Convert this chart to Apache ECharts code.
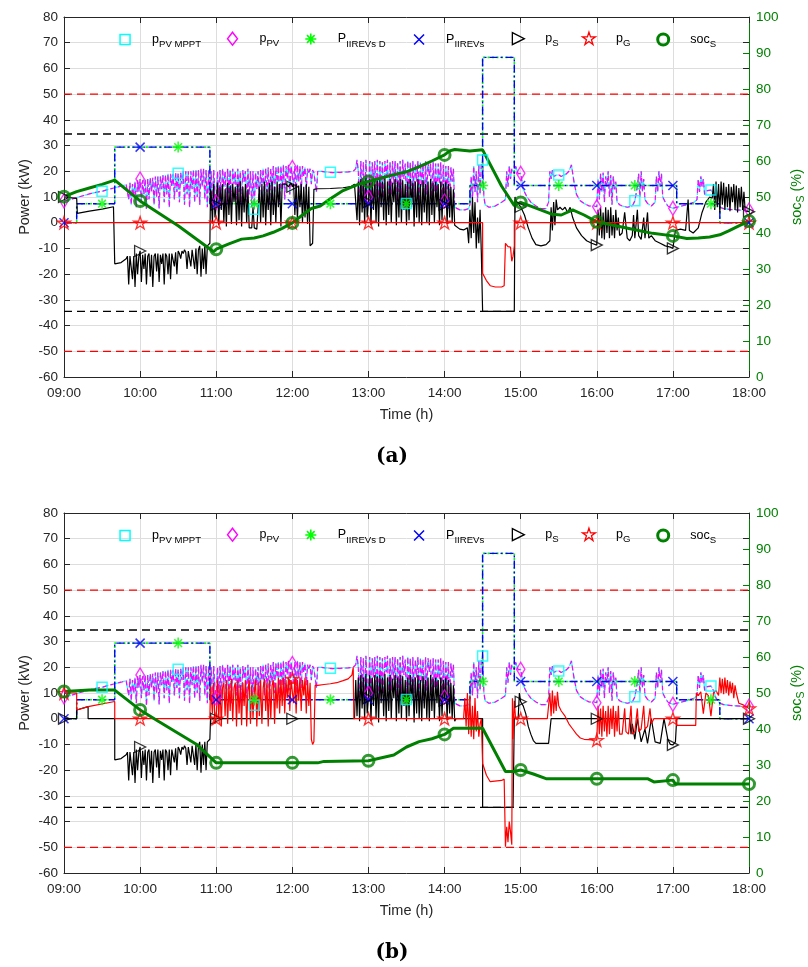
<!DOCTYPE html>
<html>
<head>
<meta charset="utf-8">
<script src="https://cdn.jsdelivr.net/npm/echarts@6/dist/echarts.min.js"></script>
<style>
  html, body { margin: 0; padding: 0; background: #fff; }
  #chart { width: 808px; height: 967px; }
</style>
</head>
<body>
<div id="chart"></div>
<script>
// ---------- helpers ----------
// consecutive one-minute samples starting at `start` (minutes after 09:00)
function seg(start, values) { return values.map(function (v, i) { return [start + i, v]; }); }

// ---------- data (time in minutes after 09:00, power in kW, soc in %) ----------
const timeLabels = ['09:00', '10:00', '11:00', '12:00', '13:00', '14:00', '15:00', '16:00', '17:00', '18:00'];
const hourMarks = [0, 60, 120, 180, 240, 300, 360, 420, 480, 540];
const halfHourMarks = [30, 90, 150, 210, 270, 330, 390, 450, 510];

const gridLimit = 50;      // grid connection limit
const storageLimit = 34.5; // storage converter limit

// PV power (available MPPT power and delivered power coincide)
const pvProfile = [].concat(
  [[0, 8.5], [5, 9], [10, 9.8], [15, 10.5], [20, 11.2], [25, 11.8], [30, 12.2], [35, 13], [40, 13.6], [45, 14.2], [49, 14.8]],
  seg(50, [
    15, 9, 15.5, 7, 15, 10, 16, 6, 16.5, 12,
    17, 8, 16.5, 11, 17, 5, 17, 9, 17.5, 12,
    17.5, 7, 18, 10, 18, 5.5, 18, 13, 18.5, 8,
    18.5, 11, 19, 6, 19, 14, 19, 9, 19.5, 12,
    19.2, 8, 19.5, 15, 20, 7, 20, 11, 20, 6,
    20, 13, 20.5, 8, 20.5, 10, 20.5, 7, 21, 14,
    21, 9, 20.5, 6, 20.5, 10, 20, 7, 20.5, 12,
    8, 20, 10, 20.5, 8, 21, 14, 20, 7, 21,
    11, 20.5, 6, 21, 15, 20, 9, 21, 12, 20,
    5, 20.5, 16, 20, 8, 21, 11, 20, 6, 20,
    5.2, 19.5, 13, 20, 8, 20.5, 15, 21, 9, 21,
    12, 21.5, 7, 21, 14, 22, 10, 21.5, 16, 22,
    8, 22, 13, 22.5, 9, 22, 17, 22.5, 11, 22,
    21.5, 14, 22, 10, 22.5, 16, 22, 12, 22, 18,
    21.5, 13, 21, 19, 21, 15, 20.5, 19.5, 20, 12
  ]),
  [[200, 20], [203, 20], [207, 19.7], [212, 19.5], [218, 19.6], [224, 19.8], [228, 20], [230, 21], [231, 24.5], [232, 20]],
  seg(233, [
    8, 24, 12, 23.5, 6, 24.5, 14, 10, 24, 7,
    23.5, 16, 24, 10, 24.5, 5.5, 24, 13, 23.5, 8,
    24, 18, 24.5, 6, 23.5, 11, 24, 15, 24, 7,
    23.5, 12, 24, 9, 24.5, 17, 23, 7.5, 24, 13,
    23.5, 6, 24, 10, 23, 16, 24, 8, 23.5, 14,
    23, 6, 24, 11, 23.5, 18, 23, 7, 23.5, 12,
    23, 9, 23, 15, 23.5, 6, 22.5, 8.5, 22, 13,
    22, 7, 21.5, 16, 21, 6
  ]),
  [[309, 5.5], [312, 5], [316, 5], [319, 5.5]],
  seg(320, [7, 18, 9, 22, 12, 20, 8, 22.5, 11, 23]),
  [[330, 24.4], [331, 10], [332, 7], [335, 6], [340, 6.5], [345, 8], [348, 9], [349, 20], [350, 14], [351, 22],
   [352, 17], [353, 21], [354, 20], [355, 19], [356, 22], [358, 19], [360, 19.2], [362, 13], [365, 10], [368, 8],
   [372, 6.5], [376, 5.5], [380, 5.5], [382, 8], [383, 20], [384, 17], [385, 20.5], [386, 18], [388, 18.5], [390, 18.6],
   [392, 18], [394, 18.5], [396, 19], [398, 20], [400, 22.5], [402, 16], [404, 11], [407, 8.5], [410, 7.5], [414, 6.5],
   [418, 6.5], [420, 6.2]],
  seg(421, [17, 9, 19, 12, 19.5, 8, 18, 14, 20, 10, 18.5, 7, 18, 13, 16, 8]),
  [[438, 7], [440, 6.5], [444, 6], [448, 6.5], [450, 8.5], [452, 14], [453, 19], [454, 10], [455, 20], [456, 12],
   [457, 17], [458, 9], [460, 7.5], [463, 6.5], [466, 8], [467, 18], [468, 12], [469, 20], [470, 14], [471, 19],
   [472, 10], [474, 8], [476, 6.5], [478, 6], [480, 5.6], [483, 6], [487, 6.5], [491, 7], [494, 7.5], [497, 8],
   [499, 9], [500, 17], [501, 12], [502, 18], [503, 14], [504, 17], [505, 11], [507, 12.5], [510, 12.7], [512, 11],
   [514, 8], [517, 6], [520, 5.5], [525, 5.2], [530, 5], [535, 4.8], [540, 4.9]]
);

// EV charging power (actual and demanded coincide)
const evCharging = [[0, 0], [10, 0], [10, 7.4], [40, 7.4], [40, 29.4], [115, 29.4], [115, 7.4], [320, 7.4], [320, 14.5],
  [330, 14.5], [330, 64.3], [355, 64.3], [355, 14.5], [483, 14.5], [483, 7.4], [517, 7.4], [517, 0], [540, 0]];
const evChargingDemand = evCharging;

// storage discharge 09:40-10:55 (same in both cases)
const storageMorning = [].concat(
  [[40, -16], [45, -15.5], [49, -14]],
  seg(50, [
    -13, -24, -13, -12.5, -22, -13, -25, -12, -20, -13,
    -11, -23, -12.5, -18, -12, -24, -13, -12, -21, -12.5,
    -25, -13, -12, -19, -12, -23, -12.5, -16, -12, -24,
    -12, -13, -20, -12, -22, -12, -11.5, -17, -11.5, -20,
    -11, -12, -14, -11, -12, -10.5, -11.5, -18, -11, -10.5,
    -17, -10.5, -10, -18, -10, -20, -10.5, -9, -21, -10,
    -18, -9, -20, -9, -8.5
  ]),
  [[115, -8]]
);

// storage cycling 12:50-14:08 (same in both cases)
const storageNoon = seg(230, [
  15, 1, 16, -1, 17, 4, 16, 0, 17.5, 2,
  8, 17, -1, 16, 5, 17, 0, 16.5, -1.5, 17,
  6, 16, 1, 17.5, -1, 16, 3, 17, 0, 15.5,
  8, 17, -1, 16, 2, 17, 0, 16.5, 5, 15,
  -1, 16, 1, 17, 7, 15.5, -1.5, 16, 2, 17,
  0, 15, -1, 16.5, 4, 15, 0, 16, -1, 17,
  3, 15.5, 0, 16, 6, 15, -1, 16, 1, 15,
  7, 16, -0.5, 15, 2, 14, 0, 13, -1
]);

// (a) storage power
const storagePowerA = [].concat(
  [[0, 10], [10, 9.5], [10.5, 3.6], [20, 4.5], [30, 5.3], [39, 6.2]],
  storageMorning,
  [[115.5, 13]],
  seg(116, [
    12, 0, 15, 2, 7, 15.5, -1, 14, 5, 15,
    0, 13, -1.5, 15.5, 3, 14.5, -0.5, 15, 8, 14,
    -1, 15, 1, 16, -1.5, 14, 4, 15, 0, 13,
    -2
  ]),
  [[148, -2], [149, 6], [150, -2], [152, -2.5], [153, -2]],
  seg(154, [14, 0, 15, 2, 16, -1, 13, 5, 15.5, -1, 16, 3, 14, 0, 16, 6, 15, -1.5, 15]),
  [[173, 14.5], [175, 15], [177, 14], [179, 15.5], [180, 14], [181, 15]],
  seg(182, [3, 15, 1, 14.5, 6, 15, 0, 14, 2, 15, -0.5, 14]),
  [[194, -9], [195, -9.5], [196, -8], [197, 13], [200, 13.2], [210, 13.3], [220, 13.6], [226, 14], [229, 15]],
  storageNoon,
  [[309, -1.5], [312, -2.5], [315, -2.8], [318, -2]],
  seg(319, [-8, 5, -6, 10, -4, 8, -10, 2, -8, 5, -12]),
  [[330, -34.5], [355, -34.5], [355.5, 10], [357, 8], [360, 6.2], [363, 3], [366, -2], [369, -6], [372, -8.5], [376, -9],
   [380, -8.5], [383, -7], [384, 6], [385, -3], [386, 8], [387, -1], [388, 9], [389, 5], [391, 6], [393, 5],
   [395, 6], [397, 4], [399, 6], [401, 2], [404, -2], [408, -5], [412, -7], [416, -8], [420, -8.7]],
  seg(421, [5, -5, 6, -6, 4, -6.5, 6, -4, 5, -6, 6, -5, 3, -6, 5, -3, 2, -5]),
  [[440, -4], [442, 4], [444, -6], [446, -7], [448, -5], [449, 3], [450, -6], [452, 5], [453, -5], [455, -6.5],
   [457, 2], [458, -6], [460, 4], [461, -6], [463, -5], [466, -7], [470, -8], [474, -9], [478, -9.5], [480, -10],
   [482, -3], [486, -2.5], [490, -3], [492, 9], [493, -3], [496, -4], [500, -2], [503, 4], [506, 8], [509, 10], [511, 9.5]],
  seg(512, [15, 5, 16, 6, 15, 4, 16, 7, 15.5, 5, 14, 6, 15, 4.5, 14, 8, 15, 5, 14.5, 4, 13.5, 6, 14, 5, 12, 4.5]),
  [[540, 4.3]]
);

// (a) grid power
const gridPowerA = [[0, 0], [330, 0], [330, -19.7], [333, -22.5], [336, -24.5], [340, -25], [345, -25], [347, -24.5],
  [348, -8], [350, -9.3], [352, -9.5], [353, -15], [354, -13], [355, -9], [355, 0], [540, 0]];

// (a) storage state of charge
const socA = [[0, 50.1], [10, 51.5], [20, 52.5], [30, 53.5], [40, 54.7], [60, 48.9], [90, 42], [118, 34.8], [120, 35.5],
  [130, 37], [140, 38.3], [150, 38.6], [157, 39.2], [165, 40.2], [172, 41.3], [180, 42.8], [188, 45], [195, 46.8],
  [202, 47.5], [210, 49.5], [220, 51.8], [232, 53.5], [240, 54.3], [250, 55.3], [258, 56], [270, 57], [282, 58.7],
  [290, 60], [300, 61.7], [304, 62.8], [308, 63.2], [320, 62.8], [330, 63.1], [345, 53], [355, 47.6], [360, 48.5],
  [370, 47.2], [385, 45.2], [392, 45], [401, 46.4], [410, 45], [420, 43.1], [435, 42], [450, 40.9], [464, 39.9],
  [480, 39.2], [491, 38.5], [500, 38.6], [509, 38.9], [517, 39.5], [524, 40.6], [532, 42], [540, 43.3]];

// (b) storage power
const storagePowerB = [].concat(
  [[0, 0], [10, 0], [10, 3.4], [19, 4.7], [19, 0], [40, 0]],
  storageMorning,
  [[115.5, 0], [229, 0]],
  storageNoon,
  [[309, 0], [330, 0], [330, -34.5], [354, -34.5], [355, 0], [358, 0], [359, 10], [360, 6.6], [362, 5], [364, 2],
   [366, -3], [368, -6], [370, -8.5], [372, -9.6], [382, -9.6], [384, 0], [446, 0], [447, -6], [448, -2], [450, -8],
   [452, 0], [455, -9], [458, -4], [460, -9.6], [463, 0], [466, -9], [470, -9.6], [473, 0], [476, -8], [478, -10],
   [480, -10.2], [482, -9], [483, 0], [540, 0]]
);

// (b) grid power
const gridPowerB = [].concat(
  [[0, 10], [10, 10], [10, 3.4], [19, 4.7], [40, 6.7], [40, 0], [115, 0], [115.5, 13]],
  seg(116, [
    13, 2, 14, -2, 0, 15, 0, 13, -3, 12,
    14, 1, 15, -2, 13, 3, 15.5, -1, 12, 14,
    -3, 15, 2, 13, -2.5, 14, 5, 15, -3, 11,
    15, -2, 13, 0, 10, 15, -3, 14, 1, 15,
    -2, 12, 15.5, 3, 14, -3, 15, 0, 13, 15,
    -2, 14, 4, 16, 2, 15, 5, 16, 2, 15,
    8, 16, 3, 15, 15.5, 6, 16, 2, 15, 7,
    16, 3, 15, 9, 16, 2, 15, 5, 14
  ]),
  [[195, -8], [196, -10], [197, -9], [198, 13], [200, 13], [205, 13.3], [210, 13.6], [215, 14], [220, 14.8],
   [224, 15.5], [227, 17], [228, 20], [228.5, 0], [315, 0]],
  seg(316, [8, -3, 10, -6, 9, -7, 5, -8, 8, -5, 3, -7, -2]),
  [[329, 0], [330, 0], [330, -17.4], [333, -22], [336, -24.5], [345, -24], [347, -23.5], [348, -49.8], [349, -42],
   [350, -48], [351, -40], [352, -44], [353, -49], [353.5, 8], [354, -8], [355, 7], [356, 0], [381, 0]],
  seg(382, [0, 10, 1, 11, 2, 9, 3, 10.5, 5]),
  [[392, 3], [395, 1], [398, -2], [401, -4], [404, -6], [407, -7.5], [410, -8], [420, -8.3]],
  seg(421, [5, -6, 4, -7, 5, -5, 3, -7, 5, -6, 4, -4, 5, -7, 3, -5, 5, -6]),
  [[440, -6], [442, 4], [443, -5], [445, -6], [447, 5], [448, -6], [450, -5], [452, 4], [453, -5], [455, -4],
   [457, 5], [458, -4], [460, -3], [462, 4], [463, -2], [465, 0], [483, 0], [483, -2.6], [498, -2.6], [498.5, 10],
   [500, 9], [502, 10.5], [504, 2], [506, 10], [508, 9], [510, 1], [512, 10], [514, 11], [516, 9]],
  seg(517, [16, 10, 15.5, 9.5, 16, 10, 15, 9, 14.5, 10, 14, 8, 13, 10]),
  [[532, 6], [535, 5.5], [540, 4]]
);

// (b) storage state of charge
const socB = [[0, 50.4], [20, 50.8], [40, 50.8], [60, 45.3], [75, 42], [90, 38.8], [105, 35.6], [120, 30.6], [200, 30.6],
  [205, 31], [240, 31.2], [260, 32.8], [270, 35], [280, 36.5], [290, 37.3], [300, 38.5], [307, 40.2], [330, 40.2],
  [348, 28.2], [355, 28.2], [360, 28.6], [370, 27.5], [380, 26.2], [460, 26.2], [465, 25.3], [480, 25.8], [482, 24.7],
  [540, 24.7]];

// ---------- styling ----------
const FONT = '"Liberation Sans", Arial, Helvetica, sans-serif';
const INK = '#262626';
const GRID_LINE = '#dddddd';
const SOC_GREEN = '#008000';

const SYM = {
  square: 'path://M0,0L10,0L10,10L0,10Z',
  diamond: 'path://M5,0L10,6.5L5,13L0,6.5Z',
  asterisk: 'path://M5,0L5,10M0,5L10,5M1.5,1.5L8.5,8.5M8.5,1.5L1.5,8.5',
  cross: 'path://M0,0L10,10M10,0L0,10',
  triRight: 'path://M0,0L10,5L0,10Z',
  star: 'path://M5,0L6.123,3.455L9.755,3.455L6.816,5.59L7.939,9.045L5,6.91L2.061,9.045L3.184,5.59L0.245,3.455L3.877,3.455Z'
};

// series definitions: name, colour, line style, marker
const traces = [
  { key: 'pvMppt', label: '{m|p}{s|PV MPPT}', color: '#00ffff', width: 1.2, dash: [7, 2, 2, 2], symbol: SYM.square, size: 10, lsize: 10, bw: 1.5, marks: halfHourMarks, legendX: 124.3 },
  { key: 'pv', label: '{m|p}{s|PV}', color: '#ff00ff', width: 1.2, dash: [5, 3], symbol: SYM.diamond, size: [11, 14], lsize: 13, bw: 1.4, marks: hourMarks, legendX: 233.3 },
  { key: 'evDemand', label: '{m|P}{s|IIREVs D}', color: '#00ff00', width: 1.6, dash: [2, 2.5], symbol: SYM.asterisk, size: 11, lsize: 11, bw: 1.6, marks: halfHourMarks, legendX: 310 },
  { key: 'ev', label: '{m|P}{s|IIREVs}', color: '#0000ff', width: 1.4, dash: [8, 3, 2, 3], symbol: SYM.cross, size: 9, lsize: 10, bw: 1.5, marks: hourMarks, legendX: 418.3 },
  { key: 'ps', label: '{m|p}{s|S}', color: '#000000', width: 1.2, dash: 'solid', symbol: SYM.triRight, size: 11, lsize: 12, bw: 1.3, marks: hourMarks, legendX: 517.7 },
  { key: 'pg', label: '{m|p}{s|G}', color: '#ff0000', width: 1.2, dash: 'solid', symbol: SYM.star, size: 13, lsize: 13, bw: 1.3, marks: hourMarks, legendX: 588.3 },
  { key: 'soc', label: '{m|soc}{s|S}', color: SOC_GREEN, width: 3, dash: 'solid', symbol: 'circle', size: 11, lsize: 11, bw: 3, marks: hourMarks, legendX: 661.7, right: true }
];

const panels = [
  { top: 17, caption: '(a)', data: { pvMppt: pvProfile, pv: pvProfile, evDemand: evChargingDemand, ev: evCharging, ps: storagePowerA, pg: gridPowerA, soc: socA } },
  { top: 513, caption: '(b)', data: { pvMppt: pvProfile, pv: pvProfile, evDemand: evChargingDemand, ev: evCharging, ps: storagePowerB, pg: gridPowerB, soc: socB } }
];

const GRID_LEFT = 64, GRID_W = 685, GRID_H = 360;
const LEGEND_TEXT_OFFSET = 27; // icon centre to label start

// value of a piecewise-linear trace at minute m
function valueAt(pts, m) {
  for (let i = 0; i < pts.length - 1; i++) {
    const a = pts[i], b = pts[i + 1];
    if (a[0] <= m && m <= b[0]) {
      if (b[0] === a[0]) return a[1];
      return a[1] + (b[1] - a[1]) * (m - a[0]) / (b[0] - a[0]);
    }
  }
  return pts[pts.length - 1][1];
}

const tickFont = { fontFamily: FONT, fontSize: 13.5, color: INK };
const grids = [], xAxes = [], yAxes = [], series = [], legends = [], graphics = [];

panels.forEach(function (panel, p) {
  grids.push({ left: GRID_LEFT, top: panel.top, width: GRID_W, height: GRID_H, containLabel: false, outerBoundsMode: 'none' });
  const xi = p * 2, yl = p * 3, yr = p * 3 + 1;

  xAxes.push({
    gridIndex: p, type: 'value', position: 'bottom', min: 0, max: 540, interval: 60,
    axisLine: { show: true, onZero: false, lineStyle: { color: INK, width: 1 } },
    axisTick: { show: true, inside: true, length: 6, lineStyle: { color: INK } },
    axisLabel: Object.assign({ margin: 9, formatter: function (v) { return timeLabels[Math.round(v / 60)]; } }, tickFont),
    splitLine: { show: true, lineStyle: { color: GRID_LINE, width: 1 } },
    name: 'Time (h)', nameLocation: 'middle', nameGap: 30,
    nameTextStyle: { fontFamily: FONT, fontSize: 14.5, color: INK }
  });
  xAxes.push({
    gridIndex: p, type: 'value', position: 'top', min: 0, max: 540, interval: 60,
    axisLine: { show: true, onZero: false, lineStyle: { color: INK, width: 1 } },
    axisTick: { show: true, inside: true, length: 6, lineStyle: { color: INK } },
    axisLabel: { show: false }, splitLine: { show: false }
  });

  yAxes.push({
    gridIndex: p, type: 'value', position: 'left', min: -60, max: 80, interval: 10,
    axisLine: { show: true, onZero: false, lineStyle: { color: INK, width: 1 } },
    axisTick: { show: true, inside: true, length: 6, lineStyle: { color: INK } },
    axisLabel: Object.assign({ margin: 6 }, tickFont),
    splitLine: { show: true, lineStyle: { color: GRID_LINE, width: 1 } },
    name: 'Power (kW)', nameLocation: 'middle', nameGap: 32, nameRotate: 90, nameMoveOverlap: false,
    nameTextStyle: { fontFamily: FONT, fontSize: 14.5, color: INK }
  });
  yAxes.push({
    gridIndex: p, type: 'value', position: 'right', min: 0, max: 100, interval: 10,
    axisLine: { show: true, onZero: false, lineStyle: { color: SOC_GREEN, width: 1 } },
    axisTick: { show: true, inside: true, length: 6, lineStyle: { color: SOC_GREEN } },
    axisLabel: { margin: 7, fontFamily: FONT, fontSize: 13.5, color: SOC_GREEN },
    splitLine: { show: false },
    name: '{m|soc}{s|S}{m| (%)}', nameLocation: 'middle', nameGap: 38, nameRotate: 90,
    nameTextStyle: {
      color: SOC_GREEN, fontFamily: FONT, fontSize: 14.5,
      rich: {
        m: { fontFamily: FONT, fontSize: 14.5, color: SOC_GREEN },
        s: { fontFamily: FONT, fontSize: 10.5, color: SOC_GREEN, padding: [9, 0, 0, 0] }
      }
    }
  });
  yAxes.push({
    gridIndex: p, type: 'value', position: 'right', min: -60, max: 80, interval: 10,
    axisLine: { show: false, onZero: false },
    axisTick: { show: true, inside: true, length: 6, lineStyle: { color: INK } },
    axisLabel: { show: false }, splitLine: { show: false }
  });

  // converter limits
  [[gridLimit, '#ff0000'], [-gridLimit, '#ff0000'], [storageLimit, '#000000'], [-storageLimit, '#000000']].forEach(function (lim) {
    series.push({
      type: 'line', xAxisIndex: xi, yAxisIndex: yl, data: [[0, lim[0]], [540, lim[0]]],
      symbol: 'none', silent: true, z: 1,
      lineStyle: { color: lim[1], width: 1.3, type: [8, 5] }
    });
  });

  traces.forEach(function (t, k) {
    const pts = panel.data[t.key];
    series.push({
      type: 'line', name: t.key, xAxisIndex: xi, yAxisIndex: t.right ? yr : yl, data: pts,
      symbol: 'none', showSymbol: false, silent: true, z: 2 + k * 0.01 + (t.right ? 1 : 0),
      lineStyle: { color: t.color, width: t.width, type: t.dash },
      itemStyle: { color: t.color }
    });
  });
  traces.forEach(function (t) {
    const pts = panel.data[t.key];
    series.push({
      type: 'scatter', name: t.key, xAxisIndex: xi, yAxisIndex: t.right ? yr : yl,
      data: t.marks.map(function (m) { return [m, valueAt(pts, m)]; }),
      symbol: t.symbol, symbolSize: t.size, symbolKeepAspect: true, silent: true, z: 4,
      itemStyle: { color: 'transparent', borderColor: t.color, borderWidth: t.bw }
    });
  });

  traces.forEach(function (t) {
    const gap = LEGEND_TEXT_OFFSET - t.lsize / 2 - 5;
    legends.push({
      show: true, left: t.legendX - t.lsize / 2, top: panel.top + 21 - t.lsize / 2, padding: 0,
      itemWidth: t.lsize, itemHeight: t.lsize, selectedMode: false,
      data: [{ name: t.key, icon: t.symbol, itemStyle: { color: 'transparent', borderColor: t.color, borderWidth: t.bw } }],
      formatter: function () { return '{g| }' + t.label; },
      textStyle: {
        fontFamily: FONT, fontSize: 12.5, color: '#000',
        rich: {
          g: { width: gap, fontSize: 12.5 },
          m: { fontFamily: FONT, fontSize: 12.5, color: '#000' },
          s: { fontFamily: FONT, fontSize: 9.6, color: '#000', padding: [10, 0, 0, 0] }
        }
      }
    });
  });

  graphics.push({
    type: 'text', x: 392, y: panel.top + 440,
    style: { text: panel.caption, font: 'bold 20px "DejaVu Serif", "Liberation Serif", serif', fill: '#000', textAlign: 'center', textVerticalAlign: 'middle' }
  });
});

const chart = echarts.init(document.getElementById('chart'), null, { renderer: 'canvas' });
chart.setOption({
  backgroundColor: '#ffffff',
  animation: false,
  grid: grids,
  xAxis: xAxes,
  yAxis: yAxes,
  legend: legends,
  series: series,
  graphic: graphics
});
</script>
</body>
</html>
